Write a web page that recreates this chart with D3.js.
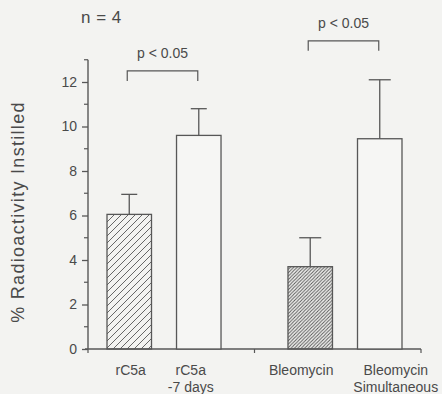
<!DOCTYPE html>
<html>
<head>
<meta charset="utf-8">
<script src="https://cdn.jsdelivr.net/npm/d3@7"></script>
<style>
  html, body { margin: 0; padding: 0; background: #f3f3f1; }
  svg { display: block; }
  text { font-family: "Liberation Sans", Arial, Helvetica, sans-serif; fill: #4a4a4a; }
</style>
</head>
<body>
<svg id="chart" width="442" height="394"></svg>
<script>
// ---- data ----
const groups = ["rC5a", "Bleomycin"];
const categories = ["rC5a", "rC5a\n-7 days", "Bleomycin", "Bleomycin\nSimultaneous"];
const categoryGroup = ["rC5a", "rC5a", "Bleomycin", "Bleomycin"];
const means = [6.05, 9.6, 3.7, 9.45];
const errors = [0.9, 1.2, 1.3, 2.65];
const fills = ["hatch-wide", "none", "hatch-dense", "none"];
const yTicks = [0, 2, 4, 6, 8, 10, 12];
const comparisons = [[0, 1, 12.5, "p < 0.05"], [2, 3, 13.85, "p < 0.05"]];
const sampleLabel = "n = 4";
const yTitle = "% Radioactivity Instilled";

// ---- drawing ----
const svg = d3.select("#chart");
const ink = "#575757";
const defs = svg.append("defs");
function hatch(id, spacing, sw) {
  const p = defs.append("pattern").attr("id", id).attr("patternUnits", "userSpaceOnUse")
    .attr("width", spacing).attr("height", spacing);
  p.append("path")
    .attr("d", `M${-spacing},${spacing} l${spacing * 2},${-spacing * 2} M0,${spacing * 2} l${spacing * 2},${-spacing * 2} M${-spacing},${spacing*2} l${spacing*3},${-spacing*3}`)
    .attr("stroke", ink).attr("stroke-width", sw).attr("fill", "none");
}
hatch("hatch-wide", 7, 0.9);
hatch("hatch-dense", 3.4, 1.0);

const y = d3.scaleLinear().domain([0, 12]).range([349, 82]);
const xGroup = d3.scaleBand().domain(groups).range([88, 421]).paddingInner(0.37).paddingOuter(0.105);
const xInner = d3.scaleBand().domain([0, 1]).range([0, xGroup.bandwidth()]).paddingInner(0.36).paddingOuter(0);

const idxInGroup = categories.map((c, i) => categoryGroup.slice(0, i).filter(g => g === categoryGroup[i]).length);
const barX = i => xGroup(categoryGroup[i]) + xInner(idxInGroup[i]);
const barW = xInner.bandwidth();
const barC = i => barX(i) + barW / 2;

// y axis
const yAxis = d3.axisLeft(y).tickValues(yTicks).tickSize(6).tickPadding(5).tickFormat(d3.format("d"));
const gy = svg.append("g").attr("transform", "translate(88,0)").call(yAxis);
gy.select(".domain").remove();
gy.selectAll(".tick line").attr("stroke", ink).attr("stroke-width", 1.3);
gy.selectAll(".tick text").style("font-size", "14px").attr("fill", "#4a4a4a");
const minor = d3.range(1, 13, 2);
svg.append("g").selectAll("line").data(minor).join("line")
  .attr("x1", 84).attr("x2", 88).attr("y1", d => y(d)).attr("y2", d => y(d))
  .attr("stroke", ink).attr("stroke-width", 1.2);
svg.append("line").attr("x1", 88).attr("x2", 88).attr("y1", y(13)).attr("y2", y(0))
  .attr("stroke", ink).attr("stroke-width", 1.4);
svg.append("line").attr("x1", 84).attr("x2", 88).attr("y1", y(13)).attr("y2", y(13))
  .attr("stroke", ink).attr("stroke-width", 1.2);

// x axis
svg.append("line").attr("x1", 85).attr("x2", 421).attr("y1", y(0)).attr("y2", y(0))
  .attr("stroke", ink).attr("stroke-width", 1.4);
const xTickPos = [88, (xGroup("rC5a") + xGroup.bandwidth() + xGroup("Bleomycin")) / 2, 421];
svg.append("g").selectAll("line").data(xTickPos).join("line")
  .attr("x1", d => d).attr("x2", d => d).attr("y1", y(0)).attr("y2", y(0) + 4)
  .attr("stroke", ink).attr("stroke-width", 1.2);

// bars
const bars = svg.append("g");
bars.selectAll("rect").data(means).join("rect")
  .attr("x", (d, i) => barX(i)).attr("width", barW)
  .attr("y", d => y(d)).attr("height", d => y(0) - y(d))
  .attr("fill", (d, i) => fills[i] === "none" ? "#f6f6f4" : `url(#${fills[i]})`)
  .attr("stroke", ink).attr("stroke-width", 1.3);

// error bars (upper only)
const capW = i => categoryGroup[i] === groups[0] ? 16 : 22;
const eb = svg.append("g").attr("stroke", ink).attr("stroke-width", 1.3);
means.forEach((m, i) => {
  eb.append("line").attr("x1", barC(i)).attr("x2", barC(i)).attr("y1", y(m)).attr("y2", y(m + errors[i]));
  eb.append("line").attr("x1", barC(i) - capW(i) / 2).attr("x2", barC(i) + capW(i) / 2)
    .attr("y1", y(m + errors[i])).attr("y2", y(m + errors[i]));
});

// significance brackets
comparisons.forEach(([a, b, v, lab]) => {
  const x1 = barC(a) - 2, x2 = barC(b) - 1, yy = y(v), leg = 10;
  svg.append("path").attr("d", `M${x1},${yy + leg} V${yy} H${x2} V${yy + leg}`)
    .attr("fill", "none").attr("stroke", ink).attr("stroke-width", 1.2);
  svg.append("text").attr("x", (x1 + x2) / 2).attr("y", yy - 13).attr("text-anchor", "middle")
    .style("font-size", "14px").text(lab);
});

// category labels
const labelShift = [1.5, -8, -9, 16];
categories.forEach((c, i) => {
  const t = svg.append("text").attr("text-anchor", "middle").style("font-size", "14px")
    .attr("x", barC(i) + labelShift[i]).attr("y", 375);
  c.split("\n").forEach((line, k) => {
    t.append("tspan").attr("x", barC(i) + labelShift[i]).attr("dy", k === 0 ? 0 : 16.5).text(line);
  });
});

// n label
svg.append("text").attr("x", 81).attr("y", 23).style("font-size", "17px").attr("word-spacing", "1px").text(sampleLabel);

// y title
svg.append("text").attr("transform", "translate(24,212) rotate(-90)").attr("text-anchor", "middle")
  .style("font-size", "18px").style("letter-spacing", "1.3px").attr("fill", "#505050").text(yTitle);
</script>
</body>
</html>
